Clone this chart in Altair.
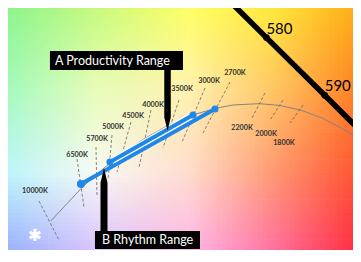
import altair as alt
import numpy as np
import pandas as pd

# ---------------- data (CIE 1931 x, y) ----------------
X_DOMAIN = [0.2347, 0.6142]
Y_DOMAIN = [0.2440, 0.5186]

# background colour anchors
BG_X = [0.235, 0.33, 0.43, 0.52, 0.615]
BG_Y = [0.245, 0.34, 0.43, 0.52]
BG_RGB = [
    [(150, 168, 255), (215, 188, 255), (255, 178, 235), (255, 108, 165), (255, 35, 60)],
    [(190, 245, 250), (248, 249, 245), (255, 220, 205), (255, 152, 115), (255, 80, 45)],
    [(165, 250, 190), (232, 252, 185), (255, 242, 175), (255, 198, 100), (255, 125, 30)],
    [(140, 244, 140), (198, 250, 125), (255, 255, 100), (255, 232, 60), (255, 170, 20)],
]

# spectral locus
WL = [565, 570, 575, 580, 585, 590, 595, 600, 605, 610]
WL_X = [0.4087, 0.4441, 0.4788, 0.5125, 0.5448, 0.5752, 0.6029, 0.6270, 0.6482, 0.6658]
WL_Y = [0.5896, 0.5547, 0.5202, 0.4866, 0.4544, 0.4242, 0.3965, 0.3725, 0.3514, 0.3340]
WL_LABELED = [580, 590]
WL_LABEL_DX = [6, 3]

# Planckian locus
CCT = [10000, 6500, 5700, 5000, 4500, 4000, 3500, 3000, 2700, 2500, 2200, 2000, 1800, 1600, 1400, 1200]
CCT_X = [0.2807, 0.3135, 0.3280, 0.3451, 0.3607, 0.3805, 0.4053, 0.4369, 0.4599, 0.4765,
         0.5046, 0.5266, 0.5497, 0.5732, 0.5985, 0.6251]
CCT_Y = [0.2883, 0.3237, 0.3372, 0.3516, 0.3635, 0.3768, 0.3909, 0.4041, 0.4106, 0.4137,
         0.4152, 0.4133, 0.4081, 0.3993, 0.3858, 0.3674]

# isotherm tick lines and labels
ISO_LABEL = ["10000K", "6500K", "5700K", "5000K", "4500K", "4000K", "3500K", "3000K",
             "2700K", "2200K", "2000K", "1800K"]
ISO_X1 = [0.2680, 0.3089, 0.3293, 0.3465, 0.3669, 0.3884, 0.4185, 0.4465, 0.4734, 0.5110, 0.5304, 0.5519]
ISO_Y1 = [0.3099, 0.3553, 0.3683, 0.3813, 0.3953, 0.4083, 0.4191, 0.4321, 0.4386, 0.4267, 0.4191, 0.4137]
ISO_X2 = [0.2895, 0.3164, 0.3304, 0.3422, 0.3519, 0.3755, 0.4013, 0.4218, 0.4443, 0.4970, 0.5164, 0.5379]
ISO_Y2 = [0.2678, 0.3034, 0.3142, 0.3326, 0.3413, 0.3456, 0.3672, 0.3737, 0.3834, 0.3996, 0.3975, 0.3942]
LBL_X = [0.2637, 0.3089, 0.3304, 0.3476, 0.3691, 0.3906, 0.4218, 0.4508, 0.4787, 0.4863, 0.5121, 0.5314]
LBL_Y = [0.3207, 0.3597, 0.3769, 0.3899, 0.4018, 0.4137, 0.4310, 0.4397, 0.4483, 0.3888, 0.3823, 0.3726]

# ranges
RANGE_NAME = ["A", "A", "B", "B"]
RANGE_X = [0.3443, 0.4336, 0.3131, 0.4572]
RANGE_Y = [0.3521, 0.4029, 0.3283, 0.4094]
DOT_SIZE = [50, 50, 64, 50]

# callouts
BOX_TEXT = ["A Productivity Range", "B Rhythm Range"]
BOX_X1 = [0.2798, 0.3282]
BOX_X2 = [0.4228, 0.4411]
BOX_Y1 = [0.4721, 0.2775]
BOX_Y2 = [0.4515, 0.2580]
TEXT_X = [0.2852, 0.3358]
TEXT_Y = [0.4618, 0.2678]

PTR_G = ["A", "A", "A", "B", "B", "B"]
PTR_X = [0.4062, 0.4062, 0.4062, 0.3379, 0.3379, 0.3379]
PTR_Y = [0.4602, 0.4007, 0.3867, 0.2678, 0.3294, 0.3445]
PTR_W = [6.5, 6.5, 0.5, 7, 7, 0.5]

STAR_X = [0.2637]
STAR_Y = [0.2732]

# ---------------- build tables ----------------
xs = alt.Scale(domain=X_DOMAIN, nice=False, zero=False)
ys = alt.Scale(domain=Y_DOMAIN, nice=False, zero=False)

step = 0.0048
gx = np.arange(X_DOMAIN[0] - step, X_DOMAIN[1] + step, step)
gy = np.arange(Y_DOMAIN[0] - step, Y_DOMAIN[1] + step, step)
rgb = np.array(BG_RGB, dtype=float)  # rows: y, cols: x
cells = []
for yv in gy:
    cy = yv + step / 2
    row = np.array([[np.interp(cy, BG_Y, rgb[:, j, k]) for k in range(3)] for j in range(len(BG_X))])
    for xv in gx:
        cx = xv + step / 2
        c = [np.interp(cx, BG_X, row[:, k]) for k in range(3)]
        cells.append({
            "x0": xv, "x1": xv + step * 1.15, "y0": yv, "y1": yv + step * 1.15,
            "c": "#%02x%02x%02x" % tuple(int(round(v)) for v in c),
        })
bg_df = pd.DataFrame(cells)

wl_df = pd.DataFrame({"wl": WL, "x": WL_X, "y": WL_Y, "top": [0.7] * len(WL)})
wl_lab = wl_df[wl_df.wl.isin(WL_LABELED)].copy().reset_index(drop=True)
wl_lab["t"] = wl_lab.wl.astype(str)
wl_lab["dx"] = WL_LABEL_DX

cct_df = pd.DataFrame({"cct": CCT, "x": CCT_X, "y": CCT_Y, "o": range(len(CCT))})
iso_df = pd.DataFrame({"lab": ISO_LABEL, "x": ISO_X1, "y": ISO_Y1, "x2": ISO_X2, "y2": ISO_Y2,
                       "lx": LBL_X, "ly": LBL_Y})
rng_df = pd.DataFrame({"r": RANGE_NAME, "x": RANGE_X, "y": RANGE_Y, "s": DOT_SIZE})
box_df = pd.DataFrame({"t": BOX_TEXT, "x": BOX_X1, "x2": BOX_X2, "y": BOX_Y1, "y2": BOX_Y2,
                       "tx": TEXT_X, "ty": TEXT_Y})
ptr_df = pd.DataFrame({"g": PTR_G, "x": PTR_X, "y": PTR_Y, "w": PTR_W, "o": range(len(PTR_G))})
star_df = pd.DataFrame({"x": STAR_X, "y": STAR_Y})

X = lambda f="x": alt.X(f"{f}:Q", scale=xs, axis=None)
Y = lambda f="y": alt.Y(f"{f}:Q", scale=ys, axis=None)

BLUE = "#1f86ea"

bg = alt.Chart(bg_df).mark_rect(clip=True, strokeWidth=0).encode(
    x=X("x0"), x2="x1:Q", y=Y("y0"), y2="y1:Q", color=alt.Color("c:N", scale=None))

white = alt.Chart(wl_df).mark_area(color="white", clip=True, opacity=1).encode(
    x=X(), y=Y(), y2="top:Q", order="wl:Q")
spec = alt.Chart(wl_df).mark_line(color="black", strokeWidth=5.5, clip=True).encode(
    x=X(), y=Y(), order="wl:Q")
spec_dots = alt.Chart(wl_lab).mark_point(filled=True, color="black", size=45, opacity=1).encode(x=X(), y=Y())
spec_text = alt.Chart(wl_lab).mark_text(align="left", baseline="middle", dy=-9, font="Lato",
                                        fontSize=15, color="black").encode(
    x=X(), y=Y(), text="t:N", xOffset=alt.XOffset("dx:Q", scale=None))

planck = alt.Chart(cct_df).mark_line(color="#858585", strokeWidth=1, clip=True).encode(
    x=X(), y=Y(), order="o:Q")
iso = alt.Chart(iso_df).mark_rule(color="#666666", strokeWidth=0.8, strokeDash=[3, 2]).encode(
    x=X(), y=Y(), x2="x2:Q", y2="y2:Q")
iso_text = alt.Chart(iso_df).mark_text(font="Lato", fontSize=7.2, fontWeight="bold", color="#333333").encode(
    x=X("lx"), y=Y("ly"), text="lab:N")

line_b = alt.Chart(rng_df[rng_df.r == "B"]).mark_line(color=BLUE, strokeWidth=4).encode(x=X(), y=Y())
halo_a = alt.Chart(rng_df[rng_df.r == "A"]).mark_line(color="white", strokeWidth=6.5).encode(x=X(), y=Y())
line_a = alt.Chart(rng_df[rng_df.r == "A"]).mark_line(color=BLUE, strokeWidth=4).encode(x=X(), y=Y())
dots = alt.Chart(rng_df).mark_point(filled=True, color=BLUE, opacity=1).encode(
    x=X(), y=Y(), size=alt.Size("s:Q", scale=None, legend=None))

boxes = alt.Chart(box_df).mark_rect(color="black").encode(x=X(), x2="x2:Q", y=Y(), y2="y2:Q")
box_text = alt.Chart(box_df).mark_text(align="left", baseline="middle", color="white", font="Lato",
                                       fontSize=12.5).encode(x=X("tx"), y=Y("ty"), text="t:N")
ptr = alt.Chart(ptr_df).mark_trail(color="black").encode(
    x=X(), y=Y(), size=alt.Size("w:Q", scale=None, legend=None), detail="g:N", order="o:Q")

star = alt.Chart(star_df).mark_point(
    shape="M0,-1L0,1M-0.866,-0.5L0.866,0.5M-0.866,0.5L0.866,-0.5",
    filled=False, stroke="white", strokeWidth=3, size=150, opacity=1).encode(x=X(), y=Y())

chart = alt.layer(
    bg, white, planck, iso, iso_text, spec, spec_dots, spec_text,
    line_b, halo_a, line_a, dots, ptr, boxes, box_text, star,
).properties(
    width=353, height=254,
    padding={"left": 0, "top": 0, "right": -8, "bottom": -12},
    autosize="none", background="white"
).configure_view(stroke="#555555", strokeWidth=2)

chart.save("out.html", embed_options={"renderer": "svg", "actions": False})
